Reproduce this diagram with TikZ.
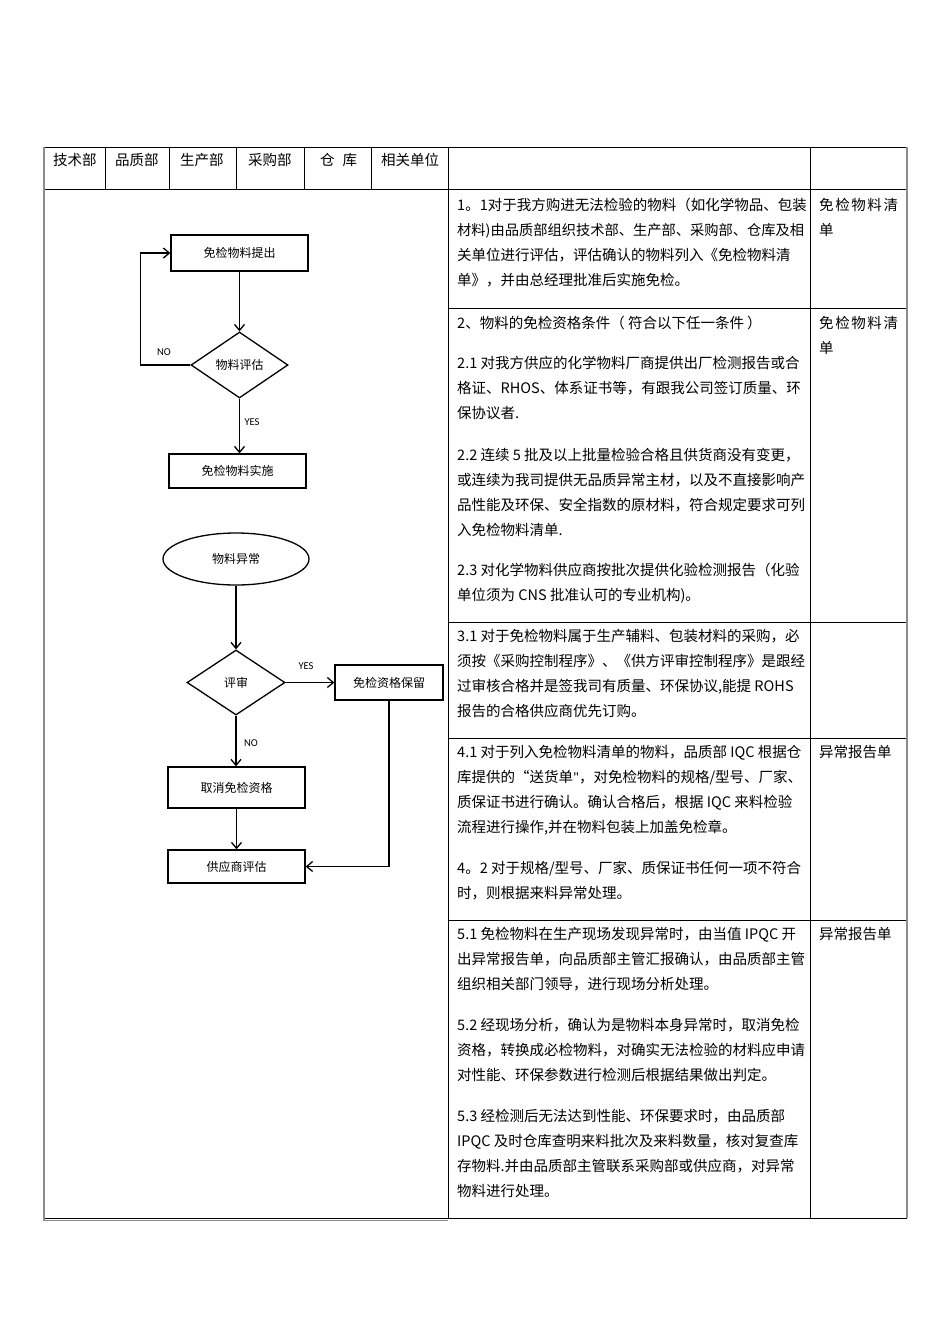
\documentclass[tikz,border=0pt]{standalone}
\usepackage{fontspec}
\setmainfont{Noto Sans CJK SC}
\newfontfamily\latinlbl{Carlito}
\newfontfamily\spacedcjk[LetterSpace=11]{Noto Sans CJK SC}
\usetikzlibrary{shapes.geometric,arrows.meta}
\newcommand\TxtLines[4]{\foreach \lineText [count=\i] in {#4}{\node[txt] (#1-\i) at (#2,{#3+5.5+25*(\i-1)}) {\lineText};}}
\tikzset{
  tl/.style={line width=0.9pt, black},
  gl/.style={line width=1.6pt, black!45},
  fb/.style={draw, line width=1.3pt, inner sep=0, font=\fontsize{12}{14}\selectfont},
  dia/.style={draw, diamond, line width=1.3pt, inner sep=0, font=\fontsize{12}{14}\selectfont},
  ell/.style={draw, ellipse, line width=1.3pt, inner sep=0, font=\fontsize{12}{14}\selectfont},
  arr/.style={line width=1.3pt, -{Straight Barb[length=6pt,width=10pt,line width=1.3pt]}},
  lbl/.style={font=\latinlbl\fontsize{10.5}{12}\selectfont, inner sep=0},
  txt/.style={font=\fontsize{14.5}{25}\selectfont, inner sep=0, anchor=base west},
}
\begin{document}
\begin{tikzpicture}[x=1pt,y=-1pt]
\fill[white] (0,0) rectangle (950,1344);
\useasboundingbox (0,0) rectangle (950,1344);

% ---------- table ----------
\draw[tl] (44,147) -- (907,147);
\draw[tl] (44,189) -- (907,189);
\foreach \xx in {105,169,236,304,371}{\draw[tl] (\xx,147) -- (\xx,189);}
\draw[tl] (448,147) -- (448,1218);
\draw[tl] (810,147) -- (810,1218);
\foreach \yy in {308,622,738,920}{\draw[tl] (448,\yy) -- (907,\yy);}
\draw[tl] (44,1218) -- (907,1218);
\draw[gl] (44,1220.5) -- (448,1220.5);
\draw[gl] (44,147) -- (44,1221);
\draw[gl] (907,147) -- (907,1218);

% ---------- header ----------
\node[txt] (h1) at (53,165.5) {技术部};
\node[txt] (h2) at (115,165.5) {品质部};
\node[txt] (h3) at (180,165.5) {生产部};
\node[txt] (h4) at (248,165.5) {采购部};
\node[txt] (h5) at (320,165.5) {仓\hspace{0.55em}库};
\node[txt] (h6) at (381,165.5) {相关单位};

% ---------- flowchart 1 ----------
\node[fb, minimum width=137, minimum height=36] (b1) at (239.5,253) {免检物料提出};
\node[dia, aspect=1.47, minimum width=97, minimum height=66] (d1) at (239.5,365) {物料评估};
\node[fb, minimum width=137, minimum height=34] (b2) at (237.5,471) {免检物料实施};
\draw[arr] (b1.south) -- (b1.south |- d1.north);
\draw[arr] (d1.west) -- ++(-50,0) |- (b1.west);
\draw[arr] (d1.south) -- (d1.south |- b2.north);
\node[lbl] (no1) at (164,352) {NO};
\node[lbl] (yes1) at (252,422) {YES};

% ---------- flowchart 2 ----------
\node[ell, minimum width=146, minimum height=52] (e1) at (236,559) {物料异常};
\node[dia, aspect=1.5, minimum width=98, minimum height=65] (d2) at (236,682.5) {评审};
\node[fb, minimum width=108, minimum height=35] (b3) at (389,682.5) {免检资格保留};
\node[fb, minimum width=137, minimum height=41] (b4) at (236.5,787.5) {取消免检资格};
\node[fb, minimum width=137, minimum height=33] (b5) at (236.5,866.5) {供应商评估};
\draw[arr] (e1.south) -- (d2.north);
\draw[arr] (d2.east) -- (b3.west);
\draw[arr] (d2.south) -- (d2.south |- b4.north);
\draw[arr] (b4.south) -- (b5.north);
\draw[arr] (b3.south) |- (b5.east);
\node[lbl] (yes2) at (306,666) {YES};
\node[lbl] (no2) at (251,743) {NO};

% ---------- text column ----------
\TxtLines{p1}{457}{205}{1。1对于我方购进无法检验的物料（如化学物品、包装,{\fontsize{14.25}{25}\selectfont 材料)由品质部组织技术部、生产部、采购部、仓库及相},关单位进行评估，评估确认的物料列入《免检物料清,单》，并由总经理批准后实施免检。}
\TxtLines{p2}{457}{323}{2、物料的免检资格条件（ 符合以下任一条件 ）}
\TxtLines{p21}{457}{363}{2.1 对我方供应的化学物料厂商提供出厂检测报告或合,格证、RHOS、体系证书等，有跟我公司签订质量、环,保协议者.}
\TxtLines{p22}{457}{455}{2.2 连续 5 批及以上批量检验合格且供货商没有变更，,或连续为我司提供无品质异常主材，以及不直接影响产,品性能及环保、安全指数的原材料，符合规定要求可列,入免检物料清单.}
\TxtLines{p23}{457}{570}{2.3 对化学物料供应商按批次提供化验检测报告（化验,单位须为 CNS 批准认可的专业机构)。}
\TxtLines{p31}{457}{636}{3.1 对于免检物料属于生产辅料、包装材料的采购，必,须按《采购控制程序》、《供方评审控制程序》是跟经,{过审核合格并是签我司有质量、环保协议,能提 ROHS},报告的合格供应商优先订购。}
\TxtLines{p41}{457}{752}{4.1 对于列入免检物料清单的物料，品质部 IQC 根据仓,库提供的“送货单{\latinlbl"}，对免检物料的规格/型号、厂家、,质保证书进行确认。确认合格后，根据 IQC 来料检验,{流程进行操作,并在物料包装上加盖免检章。}}
\TxtLines{p42}{457}{868}{4。2 对于规格/型号、厂家、质保证书任何一项不符合,时，则根据来料异常处理。}
\TxtLines{p51}{457}{934}{5.1 免检物料在生产现场发现异常时，由当值 IPQC 开,出异常报告单，向品质部主管汇报确认，由品质部主管,组织相关部门领导，进行现场分析处理。}
\TxtLines{p52}{457}{1025}{5.2 经现场分析，确认为是物料本身异常时，取消免检,资格，转换成必检物料，对确实无法检验的材料应申请,对性能、环保参数进行检测后根据结果做出判定。}
\TxtLines{p53}{457}{1116}{5.3 经检测后无法达到性能、环保要求时，由品质部,IPQC 及时仓库查明来料批次及来料数量，核对复查库,存物料.并由品质部主管联系采购部或供应商，对异常,物料进行处理。}

% ---------- remarks column ----------
\TxtLines{r1}{819}{205}{{\spacedcjk 免检物料清},单}
\TxtLines{r2}{819}{323}{{\spacedcjk 免检物料清},单}
\node[txt] (r4) at (819,757.5) {异常报告单};
\node[txt] (r5) at (819,939.5) {异常报告单};
\end{tikzpicture}
\end{document}
